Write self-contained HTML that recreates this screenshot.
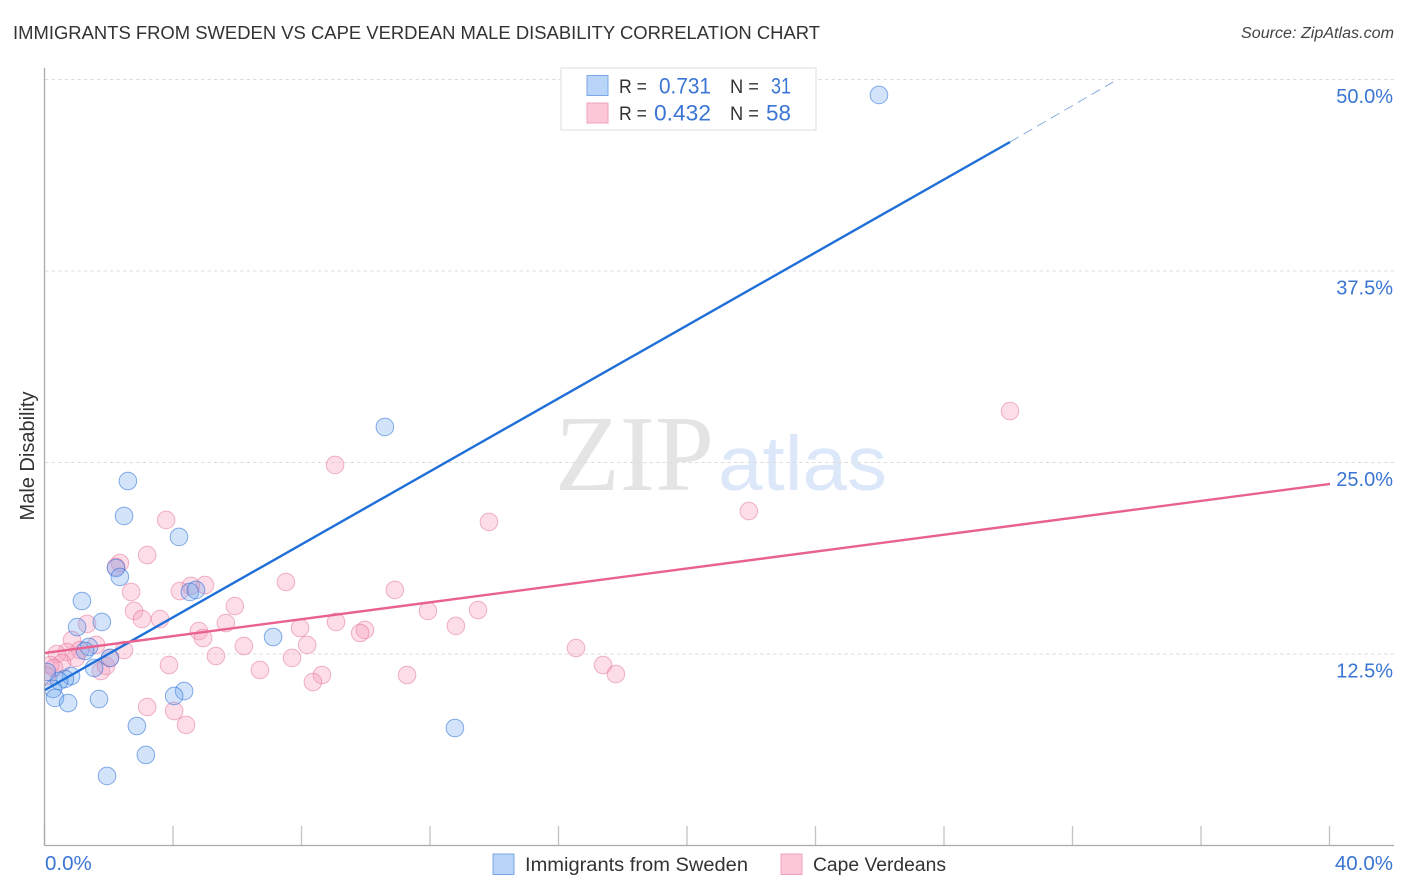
<!DOCTYPE html>
<html lang="en">
<head>
<meta charset="utf-8">
<title>Immigrants from Sweden vs Cape Verdean Male Disability Correlation Chart</title>
<style>
html,body{margin:0;padding:0;background:#fff;}
svg{display:block;font-family:"Liberation Sans",sans-serif;}
</style>
</head>
<body>
<svg id="chart" width="1406" height="892" viewBox="0 0 1406 892" xmlns="http://www.w3.org/2000/svg">
  <defs>
    <clipPath id="plot-clip"><rect x="45" y="60" width="1349" height="785"/></clipPath>
  </defs>
  <rect width="1406" height="892" fill="#fff"/>

  <text x="13" y="39" font-size="18.5" fill="#333" textLength="807" lengthAdjust="spacingAndGlyphs">IMMIGRANTS FROM SWEDEN VS CAPE VERDEAN MALE DISABILITY CORRELATION CHART</text>
  <text x="1394" y="38" font-size="15.5" font-style="italic" fill="#444" text-anchor="end" textLength="153" lengthAdjust="spacingAndGlyphs">Source: ZipAtlas.com</text>

  <g id="watermark">
    <text x="555" y="490" font-family="'Liberation Serif',serif" font-size="108" fill="#e4e4e4" textLength="159" lengthAdjust="spacingAndGlyphs">ZIP</text>
    <text x="718" y="490" font-size="77" fill="#dce8f9" textLength="169" lengthAdjust="spacingAndGlyphs">atlas</text>
  </g>

  <g id="grid"></g>
  <g id="axes"></g>
  <g id="points" clip-path="url(#plot-clip)"></g>
  <g id="trends"></g>
  <g id="labels"></g>

  <text transform="translate(34,456) rotate(-90)" font-size="20" fill="#333" text-anchor="middle">Male Disability</text>

  <g>
    <rect x="561" y="68" width="255" height="62" fill="#fff" stroke="#ddd" stroke-width="1"/>
    <rect x="587" y="75.5" width="21" height="20" fill="#b8d4f8" stroke="#7aa8e4" stroke-width="1"/>
    <rect x="587" y="103" width="21" height="20" fill="#fcc8d8" stroke="#eea3bb" stroke-width="1"/>
    <text x="619" y="93" font-size="19" fill="#333" textLength="28" lengthAdjust="spacingAndGlyphs">R =</text>
    <text x="659" y="93.5" font-size="22" fill="#3a75d4" textLength="52" lengthAdjust="spacingAndGlyphs">0.731</text>
    <text x="730" y="93" font-size="19" fill="#333" textLength="29" lengthAdjust="spacingAndGlyphs">N =</text>
    <text x="771" y="93.5" font-size="22" fill="#3a75d4" textLength="20" lengthAdjust="spacingAndGlyphs">31</text>
    <text x="619" y="120" font-size="19" fill="#333" textLength="28" lengthAdjust="spacingAndGlyphs">R =</text>
    <text x="654" y="120.5" font-size="22" fill="#3a75d4" textLength="57" lengthAdjust="spacingAndGlyphs">0.432</text>
    <text x="730" y="120" font-size="19" fill="#333" textLength="29" lengthAdjust="spacingAndGlyphs">N =</text>
    <text x="766" y="120.5" font-size="22" fill="#3a75d4" textLength="25" lengthAdjust="spacingAndGlyphs">58</text>
  </g>

  <g>
    <rect x="493" y="854" width="21" height="20.5" fill="#b8d4f8" stroke="#7aa8e4" stroke-width="1"/>
    <text x="525" y="871" font-size="19" fill="#333" textLength="223" lengthAdjust="spacingAndGlyphs">Immigrants from Sweden</text>
    <rect x="781" y="854" width="21" height="20.5" fill="#fcc8d8" stroke="#eea3bb" stroke-width="1"/>
    <text x="813" y="871" font-size="19" fill="#333" textLength="133" lengthAdjust="spacingAndGlyphs">Cape Verdeans</text>
  </g>
</svg>

<script>
const swedenX = [25.96,10.58,2.58,2.46,4.17,2.21,2.33,4.51,4.70,1.15,1.77,1.00,1.37,1.25,2.02,1.53,0.81,0.62,0.44,0.25,0.31,0.72,1.68,4.33,4.02,7.10,2.86,3.14,1.93,12.76,0.06];
const swedenY = [48.99,27.32,23.79,21.51,20.14,18.11,17.53,16.55,16.68,15.96,14.59,14.26,12.96,12.70,12.24,11.59,11.06,10.87,10.74,10.22,9.63,9.30,9.56,10.08,9.76,13.61,7.80,5.91,4.54,7.67,11.33];
const capeX = [30.04,9.03,3.77,13.82,21.91,3.18,2.33,2.21,2.68,7.50,10.89,4.98,4.54,4.20,5.91,2.77,3.02,3.58,5.63,1.31,4.79,9.96,9.81,9.06,7.94,11.92,13.48,12.79,0.84,4.92,6.19,8.16,1.59,2.46,16.53,5.32,7.69,3.86,6.69,17.37,17.77,11.27,8.62,8.34,3.18,4.02,4.39,1.74,1.90,2.02,1.09,0.68,0.37,0.96,0.53,0.16,0.28,0.06];
const capeY = [28.36,24.84,21.25,21.12,21.83,18.96,18.44,18.18,16.55,17.20,16.68,17.00,16.94,16.61,15.63,15.31,14.78,14.78,14.52,14.46,14.00,14.07,13.87,14.59,14.20,15.31,15.37,14.33,13.41,13.54,13.02,13.09,13.09,12.76,12.89,12.37,12.24,11.78,11.46,11.78,11.19,11.13,11.13,10.67,9.04,8.78,7.87,11.39,11.72,12.24,12.76,12.63,12.50,12.24,11.91,11.78,11.59,11.06];
const swedenTrendX = [0,30.04];
const swedenTrendY = [10.15,45.92];
const swedenDashX = [30.04,33.25];
const swedenDashY = [45.92,49.84];
const capeTrendX = [0,40];
const capeTrendY = [12.57,23.6];
const yTicks = [12.5,25,37.5,50];
const yTickLabels = ['12.5%','25.0%','37.5%','50.0%'];
const xTicks = [0,4,8,12,16,20,24,28,32,36,40];
const xEndTicks = [0,40];
const xEndLabels = ['0.0%','40.0%'];

const NS = 'http://www.w3.org/2000/svg';
const sx = v => 45 + v * 32.125;
const sy = v => 845.5 - v * 15.32;

function make(parent, tag, attrs) {
  const el = document.createElementNS(NS, tag);
  for (const k in attrs) el.setAttribute(k, attrs[k]);
  parent.appendChild(el);
  return el;
}

const grid = document.getElementById('grid');
const axes = document.getElementById('axes');
const points = document.getElementById('points');
const trends = document.getElementById('trends');
const labels = document.getElementById('labels');

yTicks.forEach((t) => {
  const line = make(grid, 'line', {x1: 45, x2: 1394, y1: sy(t), y2: sy(t), stroke: '#dedede', 'stroke-width': 1, 'stroke-dasharray': '3.5 3'});
  
  
});

xTicks.forEach((t) => {
  const tick = make(axes, 'line', {x1: sx(t) - 0.5, x2: sx(t) - 0.5, y1: 826, y2: 845, stroke: '#c4c4c4', 'stroke-width': 1.3});
  
  
});

const yAxis = make(axes, 'line', {x1: 44.5, x2: 44.5, y1: 68, y2: 845.5, stroke: '#aaa', 'stroke-width': 1.3});


const xAxis = make(axes, 'line', {x1: 44, x2: 1394, y1: 845.5, y2: 845.5, stroke: '#aaa', 'stroke-width': 1.3});



capeX.forEach((v, i) => {
  const c = make(points, 'circle', {cx: sx(v), cy: sy(capeY[i]), r: 8.8, fill: 'rgba(248,160,190,0.36)', stroke: 'rgba(226,110,150,0.5)', 'stroke-width': 1});
  
  
});

swedenX.forEach((v, i) => {
  const c = make(points, 'circle', {cx: sx(v), cy: sy(swedenY[i]), r: 8.8, fill: 'rgba(110,165,240,0.3)', stroke: 'rgba(40,110,215,0.55)', 'stroke-width': 1});
  
  
});

const swedenTrend = make(trends, 'line', {x1: sx(swedenTrendX[0]), y1: sy(swedenTrendY[0]), x2: sx(swedenTrendX[1]), y2: sy(swedenTrendY[1]), stroke: '#1f6fd8', 'stroke-width': 2.4});



const swedenDash = make(trends, 'line', {x1: sx(swedenDashX[0]), y1: sy(swedenDashY[0]), x2: sx(swedenDashX[1]), y2: sy(swedenDashY[1]), stroke: '#7fa6dd', 'stroke-width': 0.9, 'stroke-dasharray': '10 5.7'});



const capeTrend = make(trends, 'line', {x1: sx(capeTrendX[0]), y1: sy(capeTrendY[0]), x2: sx(capeTrendX[1]), y2: sy(capeTrendY[1]), stroke: '#e9628f', 'stroke-width': 2.4});



yTicks.forEach((t, i) => {
  const label = make(labels, 'text', {x: 1393, y: sy(t) + 23.5, 'font-size': 20, fill: '#3a75d4', 'text-anchor': 'end'});
  
  
  label.textContent = yTickLabels[i];
});

xEndTicks.forEach((t, i) => {
  const label = make(labels, 'text', {x: i === 0 ? sx(t) : 1393, y: 870, 'font-size': 20.5, fill: '#3a75d4', 'text-anchor': i === 0 ? 'start' : 'end'});
  
  
  label.textContent = xEndLabels[i];
});
</script>
</body>
</html>
